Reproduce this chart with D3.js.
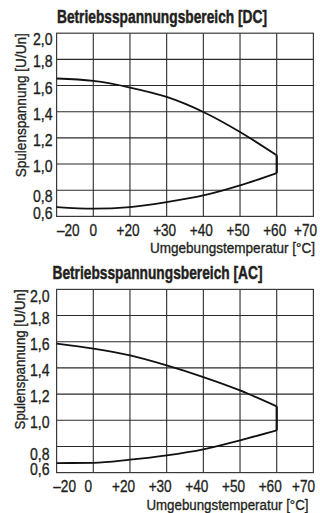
<!DOCTYPE html>
<html><head><meta charset="utf-8">
<script src="https://cdn.jsdelivr.net/npm/d3@7"></script>
<style>
html,body{margin:0;padding:0;background:#fff;}
svg{display:block;}
text{font-family:"Liberation Sans",Arial,sans-serif;fill:#231f20;stroke:#231f20;stroke-width:0.35px;}
</style></head>
<body>
<svg id="c" width="320" height="513"></svg>
<script>
// tick categories (x axis is not linear: equally spaced ticks)
const xTicks = [-20, 0, 20, 30, 40, 50, 60, 70];
const xTickLabels = ["–20", "0", "+20", "+30", "+40", "+50", "+60", "+70"];
const yTicks = [0.6, 0.8, 1.0, 1.2, 1.4, 1.6, 1.8, 2.0];
const yTickLabels = ["0,6", "0,8", "1,0", "1,2", "1,4", "1,6", "1,8", "2,0"];

const temps = [-20, 0, 20, 30, 40, 50, 60];
const dcUpper = [1.654, 1.635, 1.585, 1.513, 1.398, 1.245, 1.067];
const dcLower = [0.671, 0.659, 0.671, 0.709, 0.760, 0.837, 0.931];
const acUpper = [1.585, 1.547, 1.495, 1.419, 1.330, 1.228, 1.106];
const acLower = [0.673, 0.675, 0.699, 0.732, 0.778, 0.847, 0.923];

const titles = ["Betriebsspannungsbereich [DC]", "Betriebsspannungsbereich [AC]"];
const xTitle = "Umgebungstemperatur [°C]";
const yTitle = "Spulenspannung [U/Un]";

const svg = d3.select("#c");

// condensed text helper: horizontal squeeze via transform
function cText(g, x, y, str, opt) {
  const sx = opt.sx || 0.8, rot = opt.rot || 0;
  const t = g.append("text")
    .attr("transform", `translate(${x},${y}) rotate(${rot}) scale(${sx},1)`)
    .attr("text-anchor", opt.anchor || "start")
    .style("font-size", opt.size + "px")
    .style("font-weight", opt.weight || "normal")
    .text(str);
  if (opt.stroke) t.style("stroke-width", opt.stroke + "px");
  if (opt.width) {
    const len = t.node().getComputedTextLength();
    t.attr("transform", `translate(${x},${y}) rotate(${rot}) scale(${opt.width / len},1)`);
  }
  return t;
}

function panel(top, title, upper, lower, L) {
  const left = 56.6, right = 313.4, h = 183.2;
  const g = svg.append("g").attr("transform", `translate(0,${top})`);
  const step = (right - left) / (xTicks.length - 1);
  const x = d3.scaleLinear().domain(xTicks).range(xTicks.map((d, i) => left + i * step));
  const y = d3.scaleLinear().domain([0.6, 2.0]).range([h, 0]);

  // grid
  g.append("g").selectAll("line").data(xTicks.slice(1, -1)).join("line")
    .attr("x1", d => x(d)).attr("x2", d => x(d)).attr("y1", 0).attr("y2", h)
    .attr("stroke", "#2b2b2b").attr("stroke-width", 1.1);
  g.append("g").selectAll("line").data(yTicks.slice(1, -1)).join("line")
    .attr("x1", left).attr("x2", right).attr("y1", d => y(d)).attr("y2", d => y(d))
    .attr("stroke", "#2b2b2b").attr("stroke-width", 1.1);
  g.append("rect").attr("x", left).attr("y", 0).attr("width", right - left).attr("height", h)
    .attr("fill", "none").attr("stroke", "#3a3a3a").attr("stroke-width", 1.2);

  // curves
  const line = d3.line().x(d => x(d[0])).y(d => y(d[1])).curve(d3.curveMonotoneX);
  const up = temps.map((t, i) => [t, upper[i]]);
  const lo = temps.map((t, i) => [t, lower[i]]);
  g.append("path").attr("d", line(up)).attr("fill", "none").attr("stroke", "#111").attr("stroke-width", 1.8);
  g.append("path").attr("d", line(lo)).attr("fill", "none").attr("stroke", "#111").attr("stroke-width", 1.8);
  const last = temps.length - 1;
  g.append("line").attr("x1", x(temps[last])).attr("x2", x(temps[last]))
    .attr("y1", y(upper[last])).attr("y2", y(lower[last]))
    .attr("stroke", "#111").attr("stroke-width", 2.2);

  // x tick labels
  xTicks.forEach((d, i) => {
    const first = i === 0, lastT = i === xTicks.length - 1;
    const px = first ? L.firstX : lastT ? L.lastX : x(d) + (d === 0 ? L.zeroShift : L.xShift);
    cText(g, px, h + 19.3, xTickLabels[i],
      {size: 17, sx: 0.8, anchor: first ? "start" : lastT ? "end" : "middle"});
  });

  // y tick labels
  yTicks.forEach((d, i) => {
    const off = d === 2.0 ? L.topOff : d === 0.8 ? L.o8 : d === 0.6 ? 2.5 : 8;
    cText(g, L.yRight, y(d) + off, yTickLabels[i], {size: 17, sx: 0.83, anchor: "end"});
  });

  // titles
  cText(g, L.titleX, -10.5, title, {size: 19, weight: "bold", anchor: "middle", width: 210, stroke: 0.5});
  cText(g, L.xtEnd, h + 37, xTitle, {size: 15.5, anchor: "end", width: L.xtW});
  cText(g, L.ytX, 0, yTitle, {size: 15.5, anchor: "end", rot: -90, width: L.ytW});
}

panel(33.2, titles[0], dcUpper, dcLower,
  {firstX: 57, lastX: 317, xShift: -2, zeroShift: 0, yRight: 52.5, topOff: 11.7, o8: 11.7,
   titleX: 162, xtEnd: 315, xtW: 165, ytX: 25.5, ytW: 144});
panel(289.4, titles[1], acUpper, acLower,
  {firstX: 53.3, lastX: 315, xShift: -6.5, zeroShift: -5, yRight: 49.5, topOff: 12.5, o8: 14,
   titleX: 157.5, xtEnd: 308.5, xtW: 162, ytX: 24.5, ytW: 140});
</script>
</body></html>
